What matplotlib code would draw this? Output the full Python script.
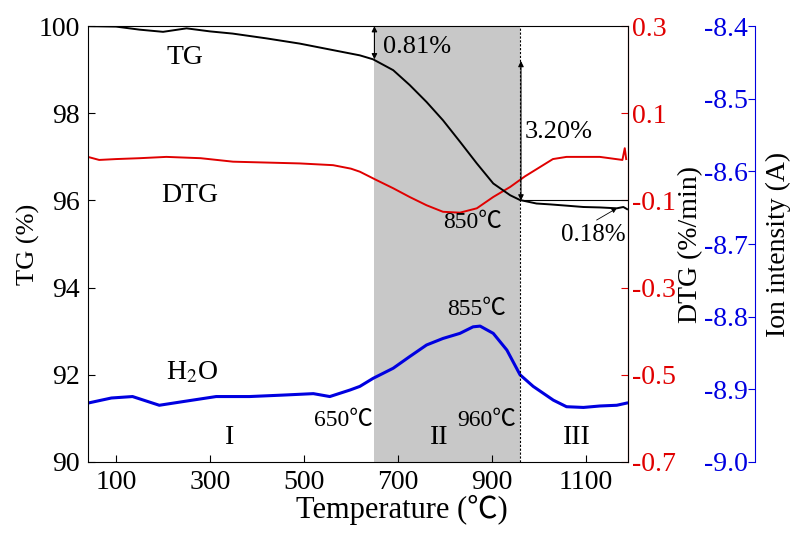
import numpy as np
import matplotlib.pyplot as plt

plt.rcParams['font.family'] = ['Liberation Serif', 'Noto Sans CJK SC', 'DejaVu Serif']
plt.rcParams['mathtext.fontset'] = 'stix'

# TG curve (temperature in C, mass %)
tg_T = [40, 100, 150, 200, 250, 300, 348, 420, 491, 562, 619, 647, 690, 725,
        761, 796, 832, 868, 903, 939, 960, 995, 1024, 1060, 1095, 1130, 1166,
        1180, 1188]
tg_val = [100.0, 99.99, 99.92, 99.87, 99.95, 99.88, 99.83, 99.72, 99.60, 99.45,
          99.33, 99.24, 98.99, 98.65, 98.26, 97.84, 97.35, 96.85, 96.39, 96.12,
          96.01, 95.93, 95.91, 95.88, 95.85, 95.84, 95.82, 95.85, 95.80]

# DTG curve (%/min)
dtg_T = [40, 64, 100, 150, 207, 280, 349, 420, 491, 562, 600, 619, 654, 690,
         725, 761, 796, 832, 868, 903, 939, 970, 1003, 1030, 1059, 1095, 1130,
         1178, 1183, 1186]
dtg_val = [0.0, -0.007, -0.005, -0.003, 0.0, -0.003, -0.011, -0.013, -0.015,
           -0.019, -0.027, -0.034, -0.053, -0.072, -0.092, -0.111, -0.126,
           -0.128, -0.118, -0.092, -0.069, -0.045, -0.023, -0.005, 0.0, 0.0,
           0.0, -0.007, 0.02, -0.005]

# H2O ion current (log A)
h2o_T = [40, 90, 135, 192, 242, 313, 384, 455, 520, 555, 598, 619, 647, 690,
         725, 761, 796, 832, 860, 875, 903, 932, 960, 988, 1031, 1059, 1095,
         1130, 1166, 1187]
h2o_val = [-8.919, -8.912, -8.910, -8.922, -8.917, -8.910, -8.910, -8.908,
           -8.906, -8.910, -8.901, -8.896, -8.885, -8.871, -8.855, -8.839,
           -8.830, -8.823, -8.814, -8.813, -8.823, -8.846, -8.880, -8.896,
           -8.915, -8.924, -8.925, -8.923, -8.922, -8.919]

x_ticks = [100, 300, 500, 700, 900, 1100]
tg_ticks = [90, 92, 94, 96, 98, 100]
dtg_ticks = [-0.7, -0.5, -0.3, -0.1, 0.1, 0.3]
ion_ticks = [-9.0, -8.9, -8.8, -8.7, -8.6, -8.5, -8.4]

red = '#e00000'
blue = '#0000e0'

fig = plt.figure(figsize=(7.92, 5.34), dpi=100)
ax = fig.add_axes([0.111, 0.135, 0.682, 0.816])
ax3 = ax.twinx()
ax2 = ax.twinx()

# stacking: shading on the lowest axes, TG on top
ax3.set_zorder(1)
ax2.set_zorder(2)
ax.set_zorder(3)
ax.patch.set_visible(False)
ax2.patch.set_visible(False)
ax3.patch.set_facecolor('white')

ax3.axvspan(650, 960, color='#c8c8c8', lw=0, zorder=0)
ax.axvline(960, color='black', lw=0.8, ls=(0, (2, 1.5)), zorder=1)

ax.plot(tg_T, tg_val, color='black', lw=1.4)
ax2.plot(dtg_T, dtg_val, color=red, lw=1.4)
ax3.plot(h2o_T, h2o_val, color=blue, lw=2.2)

ax.set_xlim(40, 1190)
ax.set_ylim(90, 100)
ax2.set_ylim(-0.7, 0.3)
ax3.set_ylim(-9.0, -8.4)

ax.set_xticks(x_ticks)
ax.set_yticks(tg_ticks)
ax2.set_yticks(dtg_ticks)
ax2.set_yticklabels([f'{v:.1f}' for v in dtg_ticks])
ax3.set_yticks(ion_ticks)
ax3.set_yticklabels([f'{v:.1f}' for v in ion_ticks])

# ion axis: spine placed right of the plot, ticks and labels on its left side
ax3.yaxis.set_ticks_position('left')
ax3.spines['left'].set_position(('axes', 1 + 127 / 540))
ax3.spines['left'].set_color(blue)
ax3.spines['right'].set_visible(False)
ax3.spines['top'].set_visible(False)
ax3.spines['bottom'].set_visible(False)
ax2.spines['right'].set_color(red)
for s in ('left', 'top', 'bottom'):
    ax2.spines[s].set_visible(False)

ax.tick_params(direction='in', labelsize=20, length=5, pad=6)
ax2.tick_params(direction='in', labelsize=20, length=5, colors=red, pad=3)
ax3.tick_params(direction='out', labelsize=20, length=5, colors=blue, pad=0)

ax.set_xlabel('Temperature (℃)', fontsize=22)
ax.xaxis.set_label_coords(0.581, -0.110)
ax.xaxis.label.set_va('center')
ax.set_ylabel('TG (%)', fontsize=19)
ax.yaxis.set_label_coords(-0.111, 0.5)
ax.yaxis.label.set_va('center')
ax2.set_ylabel('DTG (%/min)', fontsize=20)
ax2.yaxis.set_label_coords(1.115, 0.5)
ax2.yaxis.label.set_va('center')
ax3.yaxis.set_label_position('right')
ax3.set_ylabel('Ion intensity (A)', fontsize=20)
ax3.yaxis.set_label_coords(1.278, 0.5)
ax3.yaxis.label.set_va('center')

fs = 17
ax.text(246, 99.27, 'TG', fontsize=20, ha='center', va='center')
ax.text(256, 96.12, 'DTG', fontsize=20, ha='center', va='center')
ax.text(261, 92.06, 'H$_2$O', fontsize=20, ha='center', va='center')
ax.text(583, 90.96, '650℃', fontsize=fs, ha='center', va='center')
ax.text(342, 90.55, 'I', fontsize=20, ha='center', va='center')
ax.text(787, 90.55, 'II', fontsize=20, ha='center', va='center')
ax.text(889, 90.96, '960℃', fontsize=fs, ha='center', va='center')
ax.text(1081, 90.55, 'III', fontsize=20, ha='center', va='center')
ax.text(868, 93.49, '855℃', fontsize=fs, ha='center', va='center')
ax.text(858, 95.5, '850℃', fontsize=fs, ha='center', va='center')
ax.text(740, 99.52, '0.81%', fontsize=19, ha='center', va='center')
ax.text(1042, 97.57, '3.20%', fontsize=19, ha='center', va='center')
ax.text(1116, 95.2, '0.18%', fontsize=18, ha='center', va='center')

# mass loss arrows
arrow = dict(arrowstyle='<|-|>', color='black', lw=0.8, mutation_scale=8,
             shrinkA=0, shrinkB=0)
ax.annotate('', xy=(650, 100.0), xytext=(650, 99.24), arrowprops=arrow)
ax.annotate('', xy=(962, 99.2), xytext=(962, 96.0), arrowprops=arrow)
ax.plot([962, 1190], [96.0, 96.0], color='black', lw=0.8)
ax.annotate('', xy=(1166, 95.82), xytext=(1123, 95.55),
            arrowprops=dict(arrowstyle='-|>', color='black', lw=0.6,
                            mutation_scale=7, shrinkA=0, shrinkB=0))

fig.savefig('out.png', dpi=100)
